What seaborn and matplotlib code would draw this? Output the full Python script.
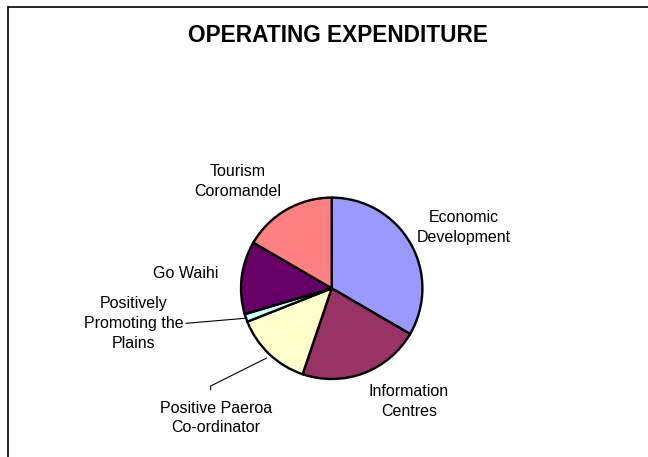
import matplotlib
matplotlib.use('Agg')
import seaborn as sns
import matplotlib.pyplot as plt

categories = [
    'Economic\nDevelopment', 'Information\nCentres',
    'Positive Paeroa\nCo-ordinator', 'Positively\nPromoting the\nPlains',
    'Go Waihi', 'Tourism\nCoromandel'
]
shares = [33.4, 21.8, 13.8, 1.4, 13.0, 16.6]
slice_colors = ['#9999FF', '#993366', '#FFFFCC', '#CCFFFF', '#660066', '#FF8080']

W, H = 648, 457


def main():
    sns.set_style('white')
    plt.rcParams['font.family'] = ['Liberation Sans', 'DejaVu Sans']
    plt.rcParams['text.color'] = 'black'

    fig = plt.figure(figsize=(W / 100, H / 100), dpi=100)
    ax = fig.add_axes([0, 0, 1, 1])

    cx, cy, r = 331.7, H - 288.3, 90.7
    ax.pie(shares, colors=slice_colors, startangle=90, counterclock=False,
           center=(cx, cy), radius=r,
           wedgeprops=dict(edgecolor='black', linewidth=1.7))
    ax.set_xlim(0, W)
    ax.set_ylim(0, H)
    ax.set_aspect('equal')
    ax.axis('off')

    # frame lines (top and left only)
    ax.plot([8, W], [H - 7, H - 7], color='black', lw=1.2, clip_on=False)
    ax.plot([8, 8], [H - 7, 0], color='black', lw=1.2, clip_on=False)

    ax.text(337.5, H - 36, 'OPERATING EXPENDITURE', ha='center', va='center',
            fontsize=16.3, fontweight='bold', color='black')

    label_pos = [(463.5, 227.5), (409, 401.5), (216, 418), (134, 323.5),
                 (186, 274), (237.5, 181.5)]
    for text, (x, y) in zip(categories, label_pos):
        ax.text(x, H - y, text, ha='center', va='center', fontsize=11.5,
                linespacing=1.38, color='black')

    # leader lines
    ax.plot([186, 245], [H - 323.3, H - 318.3], color='black', lw=0.8)
    ax.plot([210.7, 210.7, 266.7], [H - 390, H - 386, H - 358],
            color='black', lw=0.8)

    fig.savefig('out.png', dpi=100)


if __name__ == '__main__':
    main()
